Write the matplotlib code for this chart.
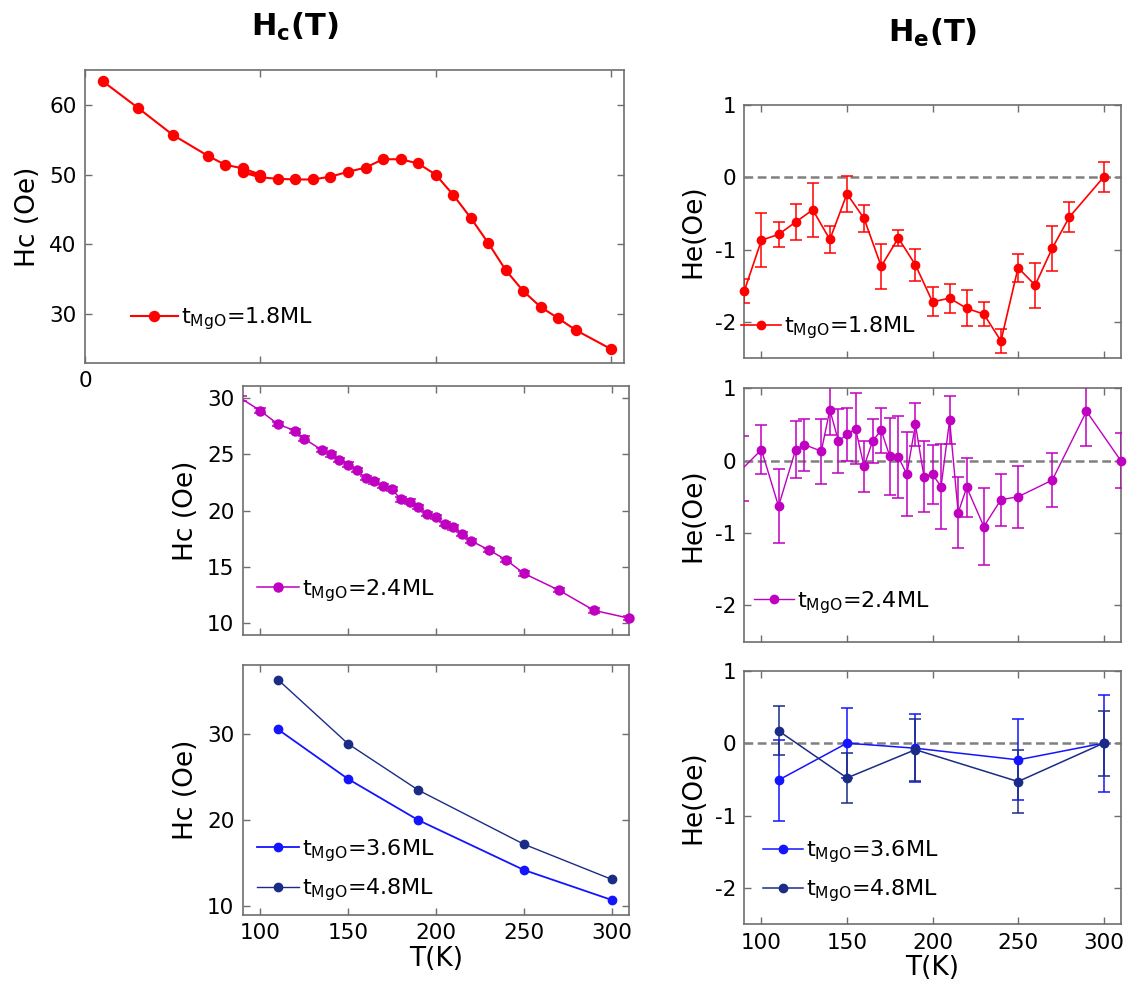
import numpy as np
import matplotlib
matplotlib.use("Agg")
import matplotlib.pyplot as plt
from matplotlib.lines import Line2D

plt.rcParams['font.family'] = ['DejaVu Sans']
plt.rcParams['mathtext.fontset'] = 'dejavusans'
plt.rcParams['axes.unicode_minus'] = False

# ---- data ----
# t_MgO = 1.8 ML
T18_hc = [10, 30, 50, 70, 80, 90, 100, 90, 100, 110, 120, 130, 140, 150, 160, 170,
          180, 190, 200, 210, 220, 230, 240, 250, 260, 270, 280, 300]
hc18 = [63.4, 59.6, 55.7, 52.7, 51.4, 50.9, 50.0, 50.3, 49.6, 49.4, 49.3, 49.3, 49.7,
        50.4, 51.0, 52.2, 52.2, 51.6, 50.0, 47.1, 43.8, 40.2, 36.3, 33.3, 31.0, 29.4,
        27.7, 25.0]
T18_he = [90, 100, 110, 120, 130, 140, 150, 160, 170, 180, 190, 200, 210, 220, 230,
          240, 250, 260, 270, 280, 300]
he18 = [-1.57, -0.87, -0.79, -0.62, -0.45, -0.86, -0.23, -0.57, -1.23, -0.84, -1.21,
        -1.72, -1.67, -1.81, -1.89, -2.26, -1.25, -1.49, -0.98, -0.55, 0.0]
he18_err = [0.16, 0.37, 0.17, 0.25, 0.37, 0.18, 0.25, 0.18, 0.31, 0.11, 0.22, 0.20,
            0.20, 0.25, 0.17, 0.17, 0.19, 0.31, 0.31, 0.21, 0.21]

# t_MgO = 2.4 ML
T24 = [89, 100, 110, 120, 125, 135, 140, 145, 150, 155, 160, 165, 170, 175, 180, 185,
       190, 195, 200, 205, 210, 215, 220, 230, 240, 250, 270, 290, 310]
hc24 = [30.0, 28.9, 27.7, 27.1, 26.4, 25.4, 25.0, 24.5, 24.1, 23.6, 22.9, 22.6, 22.2,
        21.9, 21.0, 20.8, 20.3, 19.7, 19.4, 18.8, 18.5, 17.9, 17.3, 16.5, 15.6, 14.4,
        12.9, 11.1, 10.4]
hc24_err = [0.2, 0.2, 0.2, 0.2, 0.2, 0.2, 0.2, 0.2, 0.2, 0.2, 0.2, 0.2, 0.2, 0.2, 0.2,
            0.2, 0.2, 0.2, 0.2, 0.2, 0.2, 0.2, 0.2, 0.2, 0.2, 0.2, 0.2, 0.2, 0.2]
he24 = [-0.11, 0.15, -0.63, 0.15, 0.22, 0.13, 0.70, 0.27, 0.36, 0.44, -0.08, 0.27, 0.42,
        0.06, 0.05, -0.19, 0.50, -0.22, -0.19, -0.36, 0.56, -0.72, -0.37, -0.91, -0.54,
        -0.50, -0.27, 0.68, 0.0]
he24_err = [0.45, 0.34, 0.51, 0.39, 0.36, 0.45, 0.35, 0.44, 0.37, 0.49, 0.35, 0.31, 0.31,
            0.53, 0.57, 0.58, 0.30, 0.49, 0.41, 0.59, 0.33, 0.49, 0.41, 0.53, 0.36, 0.43,
            0.37, 0.48, 0.38]

# t_MgO = 3.6 ML and 4.8 ML
T_thick = [110, 150, 190, 250, 300]
hc36 = [30.6, 24.8, 20.0, 14.2, 10.7]
hc48 = [36.4, 28.9, 23.5, 17.2, 13.1]
he36 = [-0.51, 0.0, -0.07, -0.23, 0.0]
he36_err = [0.56, 0.48, 0.47, 0.56, 0.67]
he48 = [0.17, -0.48, -0.09, -0.53, 0.0]
he48_err = [0.34, 0.35, 0.43, 0.44, 0.45]

RED = '#ff0000'
MAG = '#c000c0'
BLUE = '#1414ff'
NAVY = '#1b2c86'
AXC = '#6e6e6e'

TICK_FS = 15.5
LEG_FS = 16
LAB_FS = 19


def style(ax, xlim, ylim, xticks, yticks, xlabels=False):
    ax.set_xlim(xlim)
    ax.set_ylim(ylim)
    ax.set_xticks(xticks)
    ax.set_yticks(yticks)
    ax.tick_params(direction='in', top=True, right=True, length=5, width=1,
                   color=AXC, labelsize=TICK_FS, pad=6)
    for s in ax.spines.values():
        s.set_color(AXC)
        s.set_linewidth(1.2)
    if not xlabels:
        ax.tick_params(labelbottom=False)


def series(ax, T, v, color, lw, ms, err=None, label=None):
    T = np.asarray(T)
    v = np.asarray(v)
    ax.plot(T, v, '-', color=color, lw=lw, zorder=3)
    if err is not None:
        ax.errorbar(T, v, yerr=err, fmt='none', ecolor=color, elinewidth=1.1,
                    capsize=4, capthick=1.1, zorder=3)
    # markers only for points inside the x range, drawn unclipped at the edges
    x0, x1 = ax.get_xlim()
    inside = (T >= x0) & (T <= x1)
    ax.plot(T[inside], v[inside], 'o', color=color, ms=ms, clip_on=False, zorder=4)
    return Line2D([], [], color=color, lw=lw, marker='o', ms=ms, label=label)


def add_legend(ax, handles, x, y, spacing=0.5, hl=2.2):
    ax.legend(handles=handles, loc='center left', bbox_to_anchor=(x, y),
              frameon=False, fontsize=LEG_FS, handlelength=hl, handletextpad=0.15,
              borderpad=0, borderaxespad=0, labelspacing=spacing)


def lab(t):
    return r'$\mathrm{t_{MgO}}$=' + t


fig = plt.figure(figsize=(11.31, 9.85), dpi=100)

# ---- left column: Hc ----
ax1 = fig.add_axes([0.0752, 0.6315, 0.4766, 0.2975])
style(ax1, (0, 307.5), (23, 65), [0, 100, 200, 300], [30, 40, 50, 60], xlabels=True)
ax1.set_xticklabels(['0', '', '', ''])
h = series(ax1, T18_hc, hc18, RED, 1.5, 7.2, label=lab('1.8ML'))
add_legend(ax1, [h], 0.085, 0.15, hl=2.1)
ax1.set_ylabel('Hc (Oe)', fontsize=LAB_FS, labelpad=6)

ax2 = fig.add_axes([0.2146, 0.3553, 0.3416, 0.2528])
style(ax2, (90, 310), (8.9, 31.1), [100, 150, 200, 250, 300], [10, 15, 20, 25, 30])
h = series(ax2, T24, hc24, MAG, 1.1, 6.5, err=hc24_err, label=lab('2.4ML'))
add_legend(ax2, [h], 0.036, 0.18, hl=1.9)
ax2.set_ylabel('Hc (Oe)', fontsize=LAB_FS, labelpad=6)

ax3 = fig.add_axes([0.2146, 0.0711, 0.3418, 0.2538])
style(ax3, (90, 310), (8.95, 38.1), [100, 150, 200, 250, 300], [10, 20, 30], xlabels=True)
h1 = series(ax3, T_thick, hc36, BLUE, 1.3, 6, label=lab('3.6ML'))
h2 = series(ax3, T_thick, hc48, NAVY, 1.0, 6, label=lab('4.8ML'))
add_legend(ax3, [h1, h2], 0.036, 0.18, spacing=0.55, hl=1.9)
ax3.set_ylabel('Hc (Oe)', fontsize=LAB_FS, labelpad=6)
ax3.set_xlabel('T(K)', fontsize=LAB_FS, labelpad=2)

# ---- right column: He ----
right_axes = []
for bottom in (0.6362, 0.3485, 0.0616):
    ax = fig.add_axes([0.6581, bottom, 0.3328, 0.2575])
    style(ax, (90, 310), (-2.5, 1), [100, 150, 200, 250, 300], [-2, -1, 0, 1],
          xlabels=(bottom < 0.1))
    ax.axhline(0, color='#808080', lw=1.8, ls=(0, (3.5, 1.8)), zorder=2)
    ax.set_ylabel('He(Oe)', fontsize=LAB_FS, labelpad=6)
    right_axes.append(ax)

ax4, ax5, ax6 = right_axes
h = series(ax4, T18_he, he18, RED, 1.2, 6, err=he18_err, label=lab('1.8ML'))
add_legend(ax4, [h], -0.009, 0.12, hl=1.8)

h = series(ax5, T24, he24, MAG, 1.0, 6, err=he24_err, label=lab('2.4ML'))
add_legend(ax5, [h], 0.026, 0.155, hl=1.8)

h1 = series(ax6, T_thick, he36, BLUE, 1.1, 6, err=he36_err, label=lab('3.6ML'))
h2 = series(ax6, T_thick, he48, NAVY, 1.1, 6, err=he48_err, label=lab('4.8ML'))
add_legend(ax6, [h1, h2], 0.049, 0.21, spacing=0.55, hl=1.8)
ax6.set_xlabel('T(K)', fontsize=LAB_FS, labelpad=2)

fig.text(0.261, 0.9726, r'$\mathbf{H_c(T)}$', ha='center', va='center', fontsize=22)
fig.text(0.825, 0.9665, r'$\mathbf{H_e(T)}$', ha='center', va='center', fontsize=22)

fig.savefig('out.png', dpi=100)
